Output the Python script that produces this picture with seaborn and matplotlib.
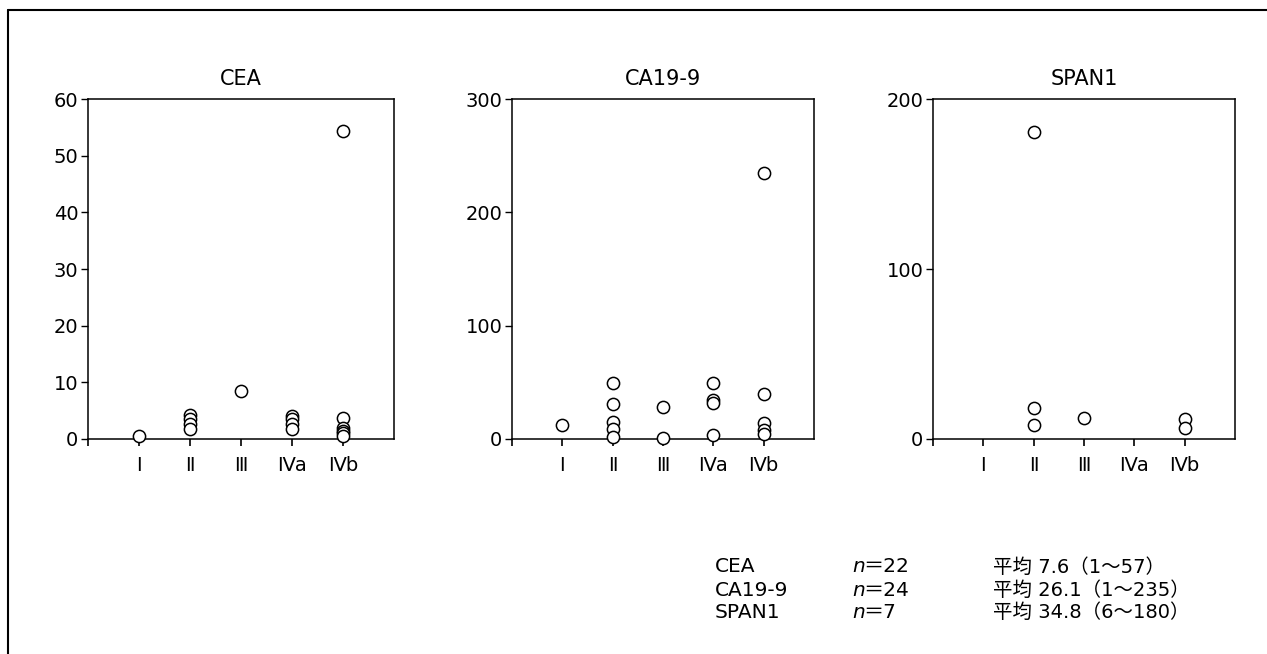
import pandas as pd
import numpy as np
import matplotlib
matplotlib.use("Agg")
import matplotlib.pyplot as plt
import seaborn as sns
from matplotlib.lines import Line2D

# stage categories and values
stages = ["Ⅰ", "Ⅱ", "Ⅲ", "Ⅳa", "Ⅳb"]

cea_stage = ["Ⅰ", "Ⅱ", "Ⅱ", "Ⅱ", "Ⅱ", "Ⅲ", "Ⅳa", "Ⅳa", "Ⅳa", "Ⅳa",
             "Ⅳb", "Ⅳb", "Ⅳb", "Ⅳb", "Ⅳb", "Ⅳb"]
cea_value = [0.6, 4.3, 3.5, 2.6, 1.7, 8.4, 4.1, 3.5, 2.7, 1.8,
             54.3, 3.7, 1.9, 1.4, 1.0, 0.6]

ca199_stage = ["Ⅰ", "Ⅱ", "Ⅱ", "Ⅱ", "Ⅱ", "Ⅱ", "Ⅲ", "Ⅲ", "Ⅳa", "Ⅳa", "Ⅳa", "Ⅳa",
               "Ⅳb", "Ⅳb", "Ⅳb", "Ⅳb", "Ⅳb"]
ca199_value = [12.6, 49.5, 30.5, 15, 8.5, 2, 28, 1, 49.5, 34.5, 31.5, 3.5,
               234.5, 40, 14, 8, 4]

span1_stage = ["Ⅱ", "Ⅱ", "Ⅱ", "Ⅲ", "Ⅳb", "Ⅳb"]
span1_value = [180.5, 18, 8, 12.5, 12, 6.5]

panel_titles = ["CEA", "CA19-9", "SPAN1"]
panel_ymax = [60, 300, 200]
panel_yticks = [[0, 10, 20, 30, 40, 50, 60], [0, 100, 200, 300], [0, 100, 200]]

summary_names = ["CEA", "CA19-9", "SPAN1"]
summary_n = ["22", "24", "7"]
summary_mean = ["7.6", "26.1", "34.8"]
summary_range = ["1～57", "1～235", "6～180"]

sns.set_style("ticks")
plt.rcParams["font.family"] = ["DejaVu Sans", "Noto Sans CJK JP"]
plt.rcParams["text.color"] = "black"
plt.rcParams["xtick.color"] = "black"
plt.rcParams["ytick.color"] = "black"
plt.rcParams["axes.labelcolor"] = "black"
plt.rcParams["axes.linewidth"] = 1.1
plt.rcParams["axes.edgecolor"] = "black"

fig = plt.figure(figsize=(12.67, 6.54), dpi=100)

lefts = [88, 512, 933]
widths = [306, 302, 302]
data = [(cea_stage, cea_value), (ca199_stage, ca199_value), (span1_stage, span1_value)]

for i in range(3):
    df = pd.DataFrame({"Stage": data[i][0], "Value": data[i][1]})
    ax = fig.add_axes([lefts[i] / 1267, 1 - 439 / 654, widths[i] / 1267, 340 / 654])
    sns.stripplot(x="Stage", y="Value", data=df, order=stages, jitter=False, ax=ax,
                  marker="o", size=8.8, color="white", edgecolor="black", linewidth=1.1,
                  zorder=3)
    for c in ax.collections:
        c.set_facecolor("white")
        c.set_edgecolor("black")
        c.set_clip_on(False)
    ax.set_xlim(-1, 5)
    ax.set_ylim(0, panel_ymax[i])
    ax.set_xticks(range(-1, 5))
    ax.set_xticklabels([""] + stages)
    ax.set_yticks(panel_yticks[i])
    ax.set_xlabel("")
    ax.set_ylabel("")
    ax.set_title(panel_titles[i], fontsize=15, pad=10)
    ax.tick_params(axis="y", direction="out", length=5, width=1, pad=2, labelsize=14)
    ax.tick_params(axis="x", direction="out", length=5, width=1.2, pad=7, labelsize=14)
    for s in ax.spines.values():
        s.set_visible(True)
        s.set_color("black")

# summary text block
rows_y = [567, 590, 612]
for j in range(3):
    y = 1 - rows_y[j] / 654
    fig.text(715 / 1267, y, summary_names[j], fontsize=14.5, va="center")
    fig.text(852 / 1267, y, "n", fontsize=14.5, style="italic", va="center")
    fig.text(863 / 1267, y, "＝" + summary_n[j], fontsize=14.5, va="center")
    fig.text(993 / 1267, y, "平均 " + summary_mean[j] + "（" + summary_range[j] + "）",
             fontsize=14, va="center")

# outer frame (left and top edges)
fig.add_artist(Line2D([8 / 1267, 8 / 1267], [0, 1 - 10 / 654], color="black", lw=1.5))
fig.add_artist(Line2D([8 / 1267, 1], [1 - 10 / 654, 1 - 10 / 654], color="black", lw=1.5))

fig.savefig("out.png", dpi=100)
